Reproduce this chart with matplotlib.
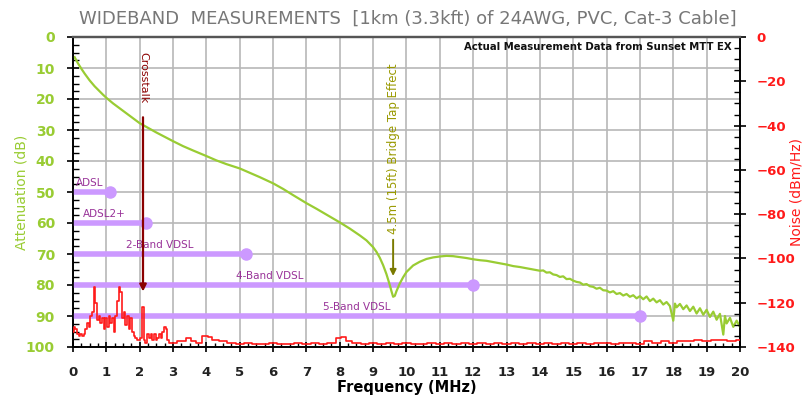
import matplotlib
matplotlib.use("Agg")
import matplotlib.pyplot as plt
from matplotlib.ticker import MultipleLocator

# attenuation (dB)
att_freq = [0.05, 0.15, 0.25, 0.35, 0.5, 0.65, 0.75, 0.9, 1.0, 1.2, 1.4, 1.6, 1.8, 2.0,
            2.2, 2.5, 2.8, 3.0, 3.3, 3.6, 4.0, 4.3, 4.6, 5.0, 5.3, 5.6, 6.0, 6.3, 6.6,
            7.0, 7.3, 7.6, 8.0, 8.3, 8.6, 8.8, 9.0, 9.1, 9.2, 9.3, 9.4, 9.5, 9.55, 9.6,
            9.65, 9.7, 9.8, 9.9, 10.0, 10.2, 10.4, 10.6, 10.8, 11.0, 11.2, 11.4, 11.6,
            11.8, 12.0, 12.2, 12.4, 12.6, 12.8, 13.0, 13.2, 13.4, 13.6, 13.8, 14.0,
            14.1, 14.2, 14.3, 14.4, 14.5, 14.6, 14.7, 14.8, 14.9, 15.0, 15.1, 15.2,
            15.3, 15.4, 15.5, 15.6, 15.7, 15.8, 15.9, 16.0, 16.1, 16.2, 16.3, 16.4,
            16.5, 16.6, 16.7, 16.8, 16.9, 17.0, 17.1, 17.2, 17.3, 17.4, 17.5, 17.6,
            17.7, 17.8, 17.9, 18.0, 18.05, 18.1, 18.2, 18.3, 18.4, 18.5, 18.6, 18.7,
            18.8, 18.9, 19.0, 19.1, 19.2, 19.3, 19.4, 19.5, 19.55, 19.6, 19.7, 19.8,
            19.9, 20.0]
att_db = [6.5, 8.5, 10.2, 11.8, 14.0, 15.9, 17.0, 18.6, 19.6, 21.4, 23.0, 24.6, 26.2, 27.8,
          29.0, 30.8, 32.5, 33.6, 35.2, 36.6, 38.4, 39.8, 41.0, 42.4, 43.8, 45.2, 47.2, 49.0,
          51.0, 53.6, 55.4, 57.3, 59.8, 61.8, 64.0, 65.6, 67.8, 69.3, 71.2, 73.6, 76.5,
          80.0, 82.0, 83.8, 83.5, 82.0, 79.5, 77.5, 75.8, 73.7, 72.5, 71.6, 71.1, 70.8,
          70.6, 70.7, 71.0, 71.3, 71.7, 72.0, 72.2, 72.6, 73.0, 73.4, 73.9, 74.2, 74.6,
          75.0, 75.4, 75.3, 76.0, 75.9, 76.6, 76.8, 77.4, 77.2, 78.1, 78.0, 78.6, 79.0,
          79.2, 79.9, 79.7, 80.4, 80.6, 81.2, 80.9, 81.7, 81.8, 82.4, 82.0, 82.9, 82.6,
          83.4, 82.9, 83.8, 83.3, 84.3, 83.6, 84.6, 83.7, 85.2, 84.4, 85.6, 84.9, 86.3,
          85.5, 86.8, 91.5, 86.0, 87.2, 86.1, 87.8, 86.6, 88.4, 87.0, 89.2, 87.5, 89.6,
          88.0, 90.3, 88.6, 91.2, 89.3, 96.0, 90.0, 92.4, 90.6, 93.5, 91.5, 93.5]

# noise (dBm/Hz)
noise_freq = [0.0, 0.05, 0.1, 0.15, 0.2, 0.25, 0.3, 0.35, 0.4, 0.45, 0.5, 0.55, 0.6, 0.65,
              0.7, 0.75, 0.8, 0.85, 0.9, 0.95, 1.0, 1.05, 1.1, 1.15, 1.2, 1.25, 1.3, 1.35,
              1.4, 1.45, 1.5, 1.55, 1.6, 1.65, 1.7, 1.75, 1.8, 1.85, 1.9, 1.95, 2.0, 2.05,
              2.1, 2.15, 2.2, 2.25, 2.3, 2.35, 2.4, 2.45, 2.5, 2.55, 2.6, 2.65, 2.7, 2.75,
              2.8, 2.85, 2.9, 3.0, 3.25, 3.5, 3.6, 3.75, 4.0, 4.1, 4.25, 4.5, 4.75, 5.0,
              5.25, 5.5, 5.75, 6.0, 6.25, 6.5, 6.75, 7.0, 7.25, 7.5, 7.75, 8.0, 8.1, 8.25,
              8.5, 8.75, 9.0, 9.25, 9.5, 9.75, 10.0, 10.25, 10.5, 10.75, 11.0, 11.25, 11.5,
              11.75, 12.0, 12.25, 12.5, 12.75, 13.0, 13.25, 13.5, 13.75, 14.0, 14.25, 14.5,
              14.75, 15.0, 15.25, 15.5, 15.75, 16.0, 16.25, 16.5, 16.75, 17.0, 17.25, 17.5,
              17.75, 18.0, 18.25, 18.5, 18.75, 19.0, 19.25, 19.5, 19.75, 20.0]
noise_dbm = [-133, -131, -132, -134, -135, -134, -135, -134, -132, -129, -131, -126, -124, -113,
             -120, -128, -126, -129, -127, -132, -127, -131, -126, -129, -127, -133, -126, -119,
             -113, -115, -127, -124, -130, -126, -132, -127, -133, -135, -136, -137, -137, -136,
             -122, -137, -138, -134, -136, -134, -137, -134, -137, -136, -134, -136, -133, -131,
             -132, -137, -138, -138, -137.5, -136, -137.5, -138, -135, -135.5, -137, -137.5,
             -138, -138.5, -138, -138.5, -138.5, -138, -138.5, -138.5, -138, -138.5, -138,
             -138.5, -138, -136, -135.5, -137.5, -138, -138.5, -138, -138.5, -138, -138.5,
             -138, -138.5, -138.5, -138, -138.5, -138, -138.5, -138, -138.5, -138, -138.5,
             -138, -138.5, -138, -138.5, -138, -138.5, -138, -138.5, -138, -138.5, -138,
             -138.5, -138, -138, -138.5, -138, -138, -138.5, -137.5, -138, -137.5, -138,
             -137.5, -137.5, -137, -137.5, -137, -137, -137.5, -137]

# xDSL band plans
band_names = ["ADSL", "ADSL2+", "2-Band VDSL", "4-Band VDSL", "5-Band VDSL"]
band_top = [1.1, 2.2, 5.2, 12, 17]
band_level = [50, 60, 70, 80, 90]
band_label_x = [0.1, 0.3, 2.6, 5.9, 8.5]
band_label_ha = ["left", "left", "center", "center", "center"]

crosstalk_freq = 2.1
bridge_tap_freq = 9.6

GREEN = "#99cc33"
RED = "#ff1a1a"
LAV = "#cc99ff"
PURPLE = "#993399"

fig = plt.figure(figsize=(8.08, 4.0), dpi=100)
ax = fig.add_axes([0.0903, 0.1325, 0.8255, 0.775])
ax2 = ax.twinx()

ax.set_xlim(0, 20)
ax.set_ylim(100, 0)
ax2.set_ylim(-140, 0)
ax.set_axisbelow(True)

ax.grid(True, which="major", color="#b8b8b8", linewidth=1.2)
ax.xaxis.set_major_locator(MultipleLocator(1))
ax.xaxis.set_minor_locator(MultipleLocator(0.25))
ax.yaxis.set_major_locator(MultipleLocator(10))
ax.yaxis.set_minor_locator(MultipleLocator(2.5))
ax2.yaxis.set_major_locator(MultipleLocator(20))
ax2.yaxis.set_minor_locator(MultipleLocator(5))

ax.tick_params(axis="x", which="major", direction="inout", length=7, width=1.2,
               labelsize=9.5, labelcolor="#222222", pad=10)
ax.tick_params(axis="x", which="minor", direction="in", length=3, width=1)
ax.tick_params(axis="y", which="major", direction="inout", length=8, width=1.2,
               labelsize=10, labelcolor=GREEN, pad=9)
ax.tick_params(axis="y", which="minor", direction="in", length=4, width=1)
ax2.tick_params(axis="y", which="major", direction="inout", length=8, width=1.2,
                labelsize=9.5, labelcolor=RED, pad=8)
ax2.tick_params(axis="y", which="minor", direction="in", length=4, width=1)
for lab in ax.get_xticklabels() + ax.get_yticklabels() + ax2.get_yticklabels():
    lab.set_fontweight("bold")

for a in (ax, ax2):
    a.spines["top"].set_color("#555555")
    a.spines["top"].set_linewidth(1.6)
    a.spines["left"].set_linewidth(1.2)
    a.spines["right"].set_linewidth(1.2)
    a.spines["bottom"].set_linewidth(1.2)

# band plan bars
for name, top, lev, lx, ha in zip(band_names, band_top, band_level, band_label_x, band_label_ha):
    ax.plot([0, top], [lev, lev], color=LAV, linewidth=4, solid_capstyle="butt", zorder=3)
    ax.plot([top], [lev], "o", color=LAV, markersize=8, zorder=3)
    ax.text(lx, lev - 3.0, name, color=PURPLE, fontsize=7.5, ha=ha, va="center", zorder=4)

# attenuation
ax.plot(att_freq, att_db, color=GREEN, linewidth=1.6, zorder=5)

# crosstalk marker
ax.annotate("", xy=(crosstalk_freq, 83), xytext=(crosstalk_freq, 25),
            arrowprops=dict(arrowstyle="-|>", color="#8b0000", lw=1.6, mutation_scale=10),
            zorder=6)
ax.text(crosstalk_freq + 0.02, 5, "Crosstalk", rotation=270, color="#8b0000",
        fontsize=8, ha="center", va="top", zorder=6)

# bridge tap marker
ax.annotate("", xy=(bridge_tap_freq, 78), xytext=(bridge_tap_freq, 64.5),
            arrowprops=dict(arrowstyle="-|>", color="#7a7a00", lw=1.4, mutation_scale=9),
            zorder=6)
ax.text(bridge_tap_freq, 63.5, "4.5m (15ft) Bridge Tap Effect", rotation=90,
        color="#999900", fontsize=8.5, ha="center", va="bottom", zorder=6)

# noise
ax2.plot(noise_freq, noise_dbm, color=RED, linewidth=1.2, drawstyle="steps-mid", zorder=5)

ax.text(19.75, 3.2, "Actual Measurement Data from Sunset MTT EX", fontsize=7.3,
        fontweight="bold", ha="right", va="center", color="#111111", zorder=6)

ax.set_xlabel("Frequency (MHz)", fontsize=10.5, fontweight="bold", labelpad=1)
ax.set_ylabel("Attenuation (dB)", fontsize=10, color=GREEN)
ax.yaxis.set_label_coords(-0.066, 0.5)
ax2.set_ylabel("Noise (dBm/Hz)", fontsize=10, color=RED)
ax2.yaxis.set_label_coords(1.075, 0.5)

fig.text(0.505, 0.953, "WIDEBAND  MEASUREMENTS  [1km (3.3kft) of 24AWG, PVC, Cat-3 Cable]",
         ha="center", va="center", fontsize=13, color="#777777")

fig.savefig("out.png", dpi=100)
